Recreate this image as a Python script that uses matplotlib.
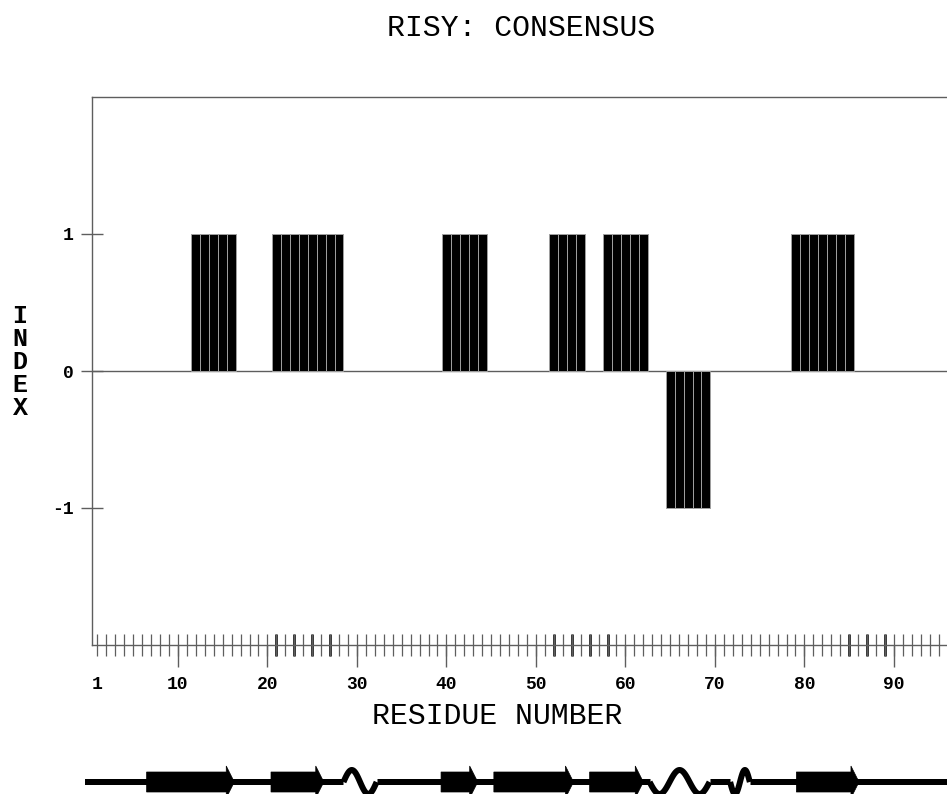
import numpy as np
import matplotlib
matplotlib.use("Agg")
import matplotlib.pyplot as plt
from matplotlib.patches import Polygon
from matplotlib.ticker import FixedLocator

# ---- data -------------------------------------------------------------
residues_pos = [12, 13, 14, 15, 16,
                21, 22, 23, 24, 25, 26, 27, 28,
                40, 41, 42, 43, 44,
                52, 53, 54, 55,
                58, 59, 60, 61, 62,
                79, 80, 81, 82, 83, 84, 85]
residues_neg = [65, 66, 67, 68, 69]
index_pos = [1] * len(residues_pos)
index_neg = [-1] * len(residues_neg)

n_residues = 95
major_ticks = [1, 10, 20, 30, 40, 50, 60, 70, 80, 90]
major_labels = ["1", "10", "20", "30", "40", "50", "60", "70", "80", "90"]
marked_residues = [21, 23, 25, 27, 52, 54, 56, 58, 85, 87, 89]

# secondary structure (residue coordinates)
strands = [(6.5, 16.3), (20.4, 26.3), (39.4, 43.5), (45.3, 54.2),
           (56.0, 62.0), (79.1, 86.1)]
helices = [(28.5, 32.2, 1.0), (62.7, 69.4, -1.5), (71.7, 73.9, -1.0)]

# ---- figure -----------------------------------------------------------
W, H = 947, 794
fig = plt.figure(figsize=(W / 100, H / 100), dpi=100)
fig.patch.set_facecolor("white")

MONO = ["Liberation Mono", "DejaVu Sans Mono"]
GRAY = "#5e5e5e"

def px_axes(x0, y0, x1, y1):
    return fig.add_axes([x0 / W, 1 - y1 / H, (x1 - x0) / W, (y1 - y0) / H])

ax = px_axes(92, 97, 947, 645)
x_left, x_right = 0.4, 95.93
ax.set_xlim(x_left, x_right)
ax.set_ylim(-2, 2)

ax.axhline(0, color=GRAY, lw=1.0, zorder=1)
ax.bar(residues_pos, index_pos, width=1.0, color="black",
       edgecolor="#a0a0a0", linewidth=0.7, zorder=2)
ax.bar(residues_neg, index_neg, width=1.0, color="black",
       edgecolor="#a0a0a0", linewidth=0.7, zorder=2)

for side in ("left", "top", "bottom"):
    ax.spines[side].set_color(GRAY)
    ax.spines[side].set_linewidth(1.0)
ax.spines["right"].set_visible(False)

# y axis
ax.set_yticks([-1, 0, 1])
ax.set_yticklabels(["-1", "0", "1"], fontfamily=MONO, fontweight="bold",
                   fontsize=13)
ax.tick_params(axis="y", direction="inout", length=16, width=1.0,
               color=GRAY, pad=5)

# x axis: one tick per residue, longer ticks every ten
ax.xaxis.remove_overlapping_locs = False
ax.xaxis.set_major_locator(FixedLocator(major_ticks))
ax.xaxis.set_minor_locator(FixedLocator(np.arange(1, n_residues + 1)))
ax.set_xticklabels(major_labels, fontfamily=MONO, fontweight="bold",
                   fontsize=13)
ax.tick_params(axis="x", which="major", direction="out", length=16,
               width=1.0, color=GRAY, pad=6)
ax.tick_params(axis="x", which="minor", direction="inout", length=16,
               width=0.9, color=GRAY)
ax.xaxis.get_major_ticks()[0].tick1line.set_visible(False)

# emphasised residue ticks
sec = ax.secondary_xaxis("bottom")
sec.set_xticks(marked_residues)
sec.set_xticklabels([])
sec.tick_params(axis="x", direction="inout", length=16, width=2.0,
                color="#222222")
sec.spines["bottom"].set_visible(False)

# labels
fig.text(521 / W, 1 - 28 / H, "RISY: CONSENSUS", ha="center", va="center",
         fontfamily=MONO, fontsize=21.5)
fig.text(497 / W, 1 - 716 / H, "RESIDUE NUMBER", ha="center", va="center",
         fontfamily=MONO, fontsize=21.5)
fig.text(20 / W, 1 - 362 / H, "I\nN\nD\nE\nX", ha="center", va="center",
         fontfamily=MONO, fontweight="bold", fontsize=18, linespacing=0.95)

# ---- secondary structure track ----------------------------------------
ss = px_axes(92, 760, 947, 794)
ss.set_xlim(x_left, x_right)
ss.set_ylim(-12, 22)
ss.axis("off")

lw_px = 6
lw_pt = lw_px * 72 / 100
ss.plot([-0.4, x_right], [0, 0], color="black", lw=lw_pt,
        solid_capstyle="butt", clip_on=False, zorder=1)

head = 0.9
for s, e in strands:
    body = [(s, -10), (e - head, -10), (e - head, -16), (e, 0),
            (e - head, 16), (e - head, 10), (s, 10)]
    ss.add_patch(Polygon(body, closed=True, facecolor="black",
                         edgecolor="black", lw=0.5, clip_on=False, zorder=2))

for s, e, turns in helices:
    # blank the backbone under the helix, then draw the coil
    ss.plot([s, e], [0, 0], color="white", lw=lw_pt + 1,
            solid_capstyle="butt", zorder=2)
    xx = np.linspace(s, e, 120)
    yy = 12 * np.sin(2 * np.pi * turns * (xx - s) / (e - s))
    ss.plot(xx, yy, color="black", lw=lw_pt, solid_capstyle="butt",
            solid_joinstyle="round", zorder=3, clip_on=False)

fig.savefig("out.png", dpi=100, facecolor="white")
